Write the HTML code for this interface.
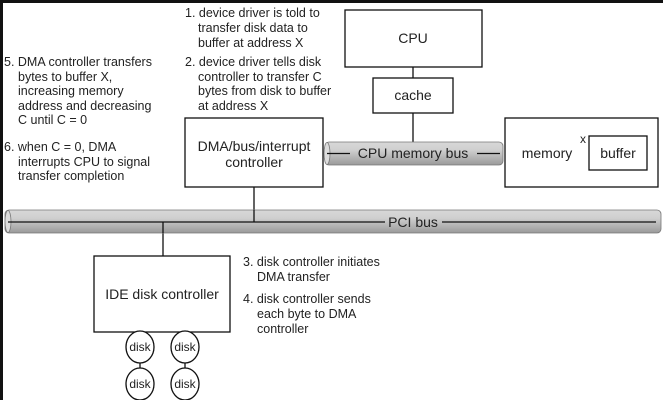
<!DOCTYPE html>
<html><head><meta charset="utf-8"><style>
html,body{margin:0;padding:0;background:#fff;width:663px;height:400px;overflow:hidden}
svg text{font-family:"Liberation Sans",Arial,sans-serif;fill:#222}
</style></head><body>
<svg width="663" height="400" viewBox="0 0 663 400" xmlns="http://www.w3.org/2000/svg">
<defs>
<linearGradient id="g" x1="0" y1="0" x2="0" y2="1">
<stop offset="0" stop-color="#d8d8d8"/><stop offset="0.35" stop-color="#cfcfcf"/><stop offset="1" stop-color="#9a9a9a"/>
</linearGradient>
</defs>
<rect x="0" y="0" width="663" height="400" fill="#fff"/>
<rect x="0" y="0" width="663" height="3" fill="#111"/>
<rect x="0" y="0" width="3" height="400" fill="#111"/>
<g fill="none" stroke="#111" stroke-width="1.3">
<rect x="345" y="10" width="137" height="57"/>
<rect x="373" y="78" width="80" height="35"/>
<line x1="413" y1="67" x2="413" y2="78"/>
<line x1="413" y1="113" x2="413" y2="143"/>
<rect x="185" y="118" width="138" height="69"/>
<rect x="505" y="118" width="153" height="69"/>
<rect x="589" y="136" width="58" height="34"/>
<line x1="254" y1="187" x2="254" y2="222"/>
<rect x="94" y="256" width="136" height="76"/>
<line x1="163" y1="233" x2="163" y2="256"/>
</g>
<!-- CPU memory bus -->
<rect x="325" y="142" width="178" height="23" rx="4" fill="url(#g)" stroke="#777" stroke-width="0.8"/>
<ellipse cx="327" cy="153.5" rx="3" ry="11" fill="#ddd" stroke="#777" stroke-width="0.8"/>
<line x1="327" y1="153.5" x2="350" y2="153.5" stroke="#111" stroke-width="1.3"/>
<line x1="477" y1="153.5" x2="500" y2="153.5" stroke="#111" stroke-width="1.3"/>
<text x="413" y="158" font-size="14" text-anchor="middle">CPU memory bus</text>
<!-- PCI bus -->
<rect x="5" y="210" width="656" height="23" rx="4" fill="url(#g)" stroke="#777" stroke-width="0.8"/>
<ellipse cx="8" cy="221.5" rx="3" ry="11" fill="#ddd" stroke="#777" stroke-width="0.8"/>
<line x1="8" y1="222" x2="385" y2="222" stroke="#111" stroke-width="1.3"/>
<line x1="442" y1="222" x2="656" y2="222" stroke="#111" stroke-width="1.3"/>
<text x="413" y="227" font-size="14" text-anchor="middle">PCI bus</text>
<line x1="254" y1="210" x2="254" y2="222" stroke="#111" stroke-width="1.3"/>
<line x1="163" y1="222" x2="163" y2="233" stroke="#111" stroke-width="1.3"/>
<!-- disks -->
<g fill="#fff" stroke="#111" stroke-width="1.3">
<line x1="140" y1="332" x2="140" y2="384"/>
<line x1="185" y1="332" x2="185" y2="384"/>
<ellipse cx="140" cy="347" rx="14" ry="16"/>
<ellipse cx="185" cy="347" rx="14" ry="16"/>
<ellipse cx="140" cy="384" rx="14" ry="16"/>
<ellipse cx="185" cy="384" rx="14" ry="16"/>
</g>
<g font-size="12" text-anchor="middle">
<text x="140" y="351">disk</text><text x="185" y="351">disk</text>
<text x="140" y="388">disk</text><text x="185" y="388">disk</text>
</g>
<g font-size="14" text-anchor="middle">
<text x="413" y="43">CPU</text>
<text x="413" y="100">cache</text>
<text x="254" y="151">DMA/bus/interrupt</text>
<text x="254" y="167">controller</text>
<text x="547" y="158">memory</text>
<text x="618" y="158">buffer</text>
<text x="162" y="299">IDE disk controller</text>
</g>
<text x="580" y="143" font-size="12">x</text>
<g font-size="12.5">
<text x="185" y="17">1. device driver is told to</text>
<text x="198" y="32">transfer disk data to</text>
<text x="198" y="47">buffer at address X</text>
<text x="185" y="66">2. device driver tells disk</text>
<text x="198" y="81">controller to transfer C</text>
<text x="198" y="95">bytes from disk to buffer</text>
<text x="198" y="110">at address X</text>
<text x="4" y="66">5. DMA controller transfers</text>
<text x="18" y="81">bytes to buffer X,</text>
<text x="18" y="95">increasing memory</text>
<text x="18" y="110">address and decreasing</text>
<text x="18" y="124">C until C = 0</text>
<text x="4" y="151">6. when C = 0, DMA</text>
<text x="18" y="166">interrupts CPU to signal</text>
<text x="18" y="180">transfer completion</text>
<text x="243" y="266">3. disk controller initiates</text>
<text x="257" y="281">DMA transfer</text>
<text x="243" y="303">4. disk controller sends</text>
<text x="257" y="318">each byte to DMA</text>
<text x="257" y="333">controller</text>
</g>
</svg>
</body></html>
